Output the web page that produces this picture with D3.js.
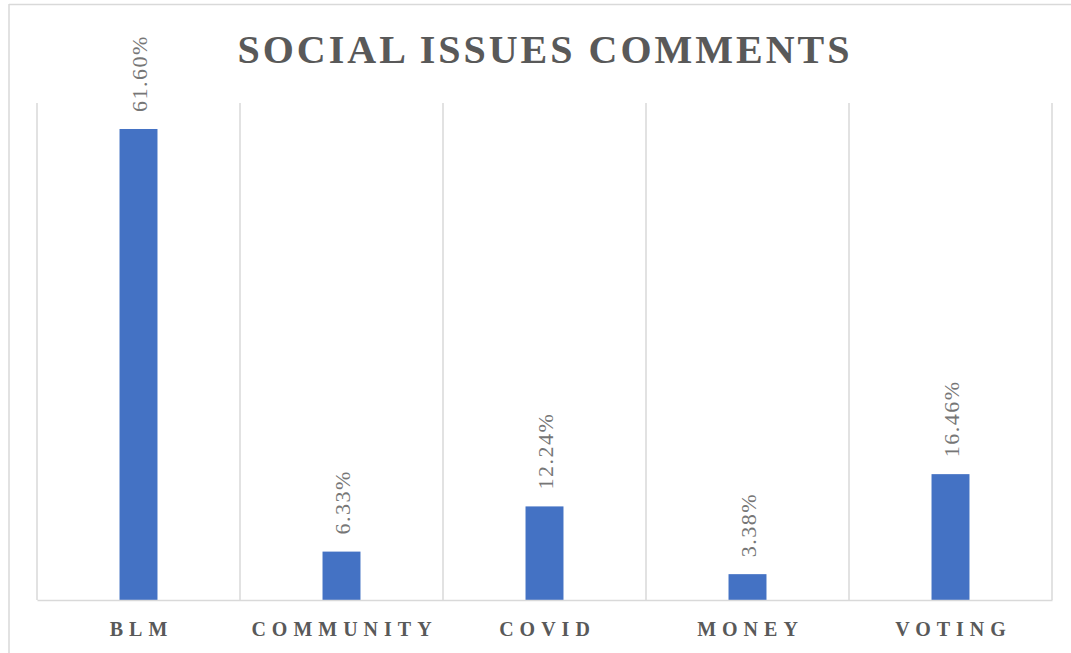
<!DOCTYPE html>
<html>
<head>
<meta charset="utf-8">
<script src="https://cdn.jsdelivr.net/npm/d3@7/dist/d3.min.js"></script>
<style>
  html, body { margin: 0; padding: 0; background: #ffffff; }
  svg { display: block; }
</style>
</head>
<body>
<svg id="chart" width="1071" height="653"></svg>
<script>
// Share of social-issue comments by topic (percent)
const categories = ["BLM", "COMMUNITY", "COVID", "MONEY", "VOTING"];
const shares = [61.60, 6.33, 12.24, 3.38, 16.46];
const chartTitle = "SOCIAL ISSUES COMMENTS";

const W = 1071, H = 653;
const plot = { left: 37, right: 1052, top: 103, bottom: 600 };

const svg = d3.select("#chart");
const serif = "'Liberation Serif', 'Times New Roman', serif";
const gridColor = "#d9d9d9";

// chart frame (only top and left edges fall inside the window)
svg.append("line")
  .attr("x1", 9).attr("x2", W).attr("y1", 4.5).attr("y2", 4.5)
  .attr("stroke", gridColor).attr("stroke-width", 1.5);
svg.append("line")
  .attr("x1", 9).attr("x2", 9).attr("y1", 4).attr("y2", H)
  .attr("stroke", gridColor).attr("stroke-width", 1.5);

// scales
const band = d3.scaleBand().domain(categories).range([plot.left, plot.right]).padding(0);
const barBand = d3.scaleBand().domain(categories).range([plot.left, plot.right])
  .paddingInner(0.813).paddingOuter(0.813 / 2);
const y = d3.scaleLinear().domain([0, 65]).range([plot.bottom, plot.top]);

// vertical category gridlines
const gridXs = categories.map(c => band(c)).concat([plot.right]);
svg.append("g").selectAll("line").data(gridXs).join("line")
  .attr("x1", d => d).attr("x2", d => d)
  .attr("y1", plot.top).attr("y2", plot.bottom)
  .attr("stroke", gridColor).attr("stroke-width", 1.5);

// bars
svg.append("g").selectAll("rect").data(categories).join("rect")
  .attr("x", d => barBand(d))
  .attr("width", barBand.bandwidth())
  .attr("y", (d, i) => y(shares[i]))
  .attr("height", (d, i) => y(0) - y(shares[i]))
  .attr("fill", "#4472c4");

// category axis
const xAxis = d3.axisBottom(band).tickSize(0).tickPadding(0);
const gx = svg.append("g").attr("transform", `translate(0,${plot.bottom})`).call(xAxis);
gx.select(".domain").attr("stroke", gridColor).attr("stroke-width", 1.5);
gx.selectAll(".tick text")
  .attr("y", 36)
  .attr("dy", 0)
  .attr("font-family", serif)
  .attr("font-weight", "bold")
  .attr("font-size", 20)
  .attr("letter-spacing", "6px")
  .attr("fill", "#595959")
  .attr("text-anchor", "middle")
  .attr("dx", 3);

// rotated value labels above each bar
svg.append("g").selectAll("text").data(categories).join("text")
  .attr("transform", (d, i) => {
    const cx = band(d) + band.bandwidth() / 2 + 8;
    const ty = y(shares[i]) - 17;
    return `translate(${cx},${ty}) rotate(-90)`;
  })
  .attr("font-family", serif)
  .attr("font-size", 22)
  .attr("letter-spacing", "1.5px")
  .attr("fill", "#767676")
  .attr("text-anchor", "start")
  .text((d, i) => shares[i].toFixed(2) + "%");

// title
svg.append("text")
  .attr("x", 545).attr("y", 63)
  .attr("text-anchor", "middle")
  .attr("font-family", serif)
  .attr("font-weight", "bold")
  .attr("font-size", 40)
  .attr("letter-spacing", "3px")
  .attr("fill", "#595959")
  .text(chartTitle);
</script>
</body>
</html>
